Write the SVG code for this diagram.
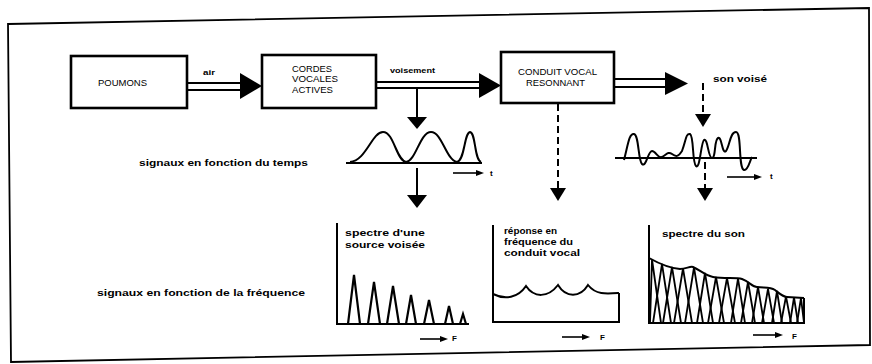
<svg xmlns="http://www.w3.org/2000/svg" width="872" height="364" viewBox="0 0 872 364">
<defs>
<style>
.frame{fill:none;stroke:#000;stroke-width:1.8}
.box{fill:#fff;stroke:#000;stroke-width:2.6}
.ln{fill:none;stroke:#000;stroke-width:2;stroke-linecap:butt}
.th{fill:none;stroke:#000;stroke-width:1.6}
.dash{fill:none;stroke:#000;stroke-width:2;stroke-dasharray:7 4}
.head{fill:#000;stroke:none}
.bx{font-family:"Liberation Sans",Arial,sans-serif;font-size:9px;fill:#000}
.lb{font-family:"Liberation Sans",Arial,sans-serif;font-size:9.5px;font-weight:bold;fill:#000}
.sm{font-family:"Liberation Sans",Arial,sans-serif;font-size:8px;font-weight:bold;fill:#000}
</style>
</defs>
<rect width="872" height="364" fill="#fff"/>
<polygon class="frame" points="8,24 869,8 870,345 11,362"/>

<g id="poumons">
<rect class="box" x="71" y="56" width="116" height="52"/>
<text class="bx" x="98" y="85.5" textLength="49" lengthAdjust="spacingAndGlyphs">POUMONS</text>
</g>
<g id="cordes">
<rect class="box" x="262" y="55" width="114" height="53"/>
<text class="bx" x="292" y="71.5" textLength="40" lengthAdjust="spacingAndGlyphs">CORDES</text>
<text class="bx" x="292" y="82" textLength="46" lengthAdjust="spacingAndGlyphs">VOCALES</text>
<text class="bx" x="292" y="92.5" textLength="41" lengthAdjust="spacingAndGlyphs">ACTIVES</text>
</g>
<g id="conduit">
<rect class="box" x="501" y="52" width="113" height="51"/>
<text class="bx" x="518" y="74.5" textLength="79" lengthAdjust="spacingAndGlyphs">CONDUIT VOCAL</text>
<text class="bx" x="526" y="85.5" textLength="59" lengthAdjust="spacingAndGlyphs">RESONNANT</text>
</g>

<g id="connectors">
<!-- poumons -> cordes -->
<line class="ln" x1="187" y1="83" x2="242" y2="83"/>
<line class="ln" x1="187" y1="90" x2="242" y2="90"/>
<polygon class="head" points="240,73 262,86 240,99"/>
<!-- cordes -> conduit -->
<line class="ln" x1="376" y1="82" x2="481" y2="82"/>
<line class="ln" x1="376" y1="88" x2="481" y2="88"/>
<polygon class="head" points="479,73 501,85.5 479,98"/>
<!-- conduit -> son voise -->
<line class="ln" x1="614" y1="79" x2="667" y2="79"/>
<line class="ln" x1="614" y1="87" x2="667" y2="87"/>
<polygon class="head" points="665,72 688,83.5 665,95"/>
<!-- voisement branch down -->
<line class="ln" x1="417" y1="88" x2="417" y2="119"/>
<polygon class="head" points="407,117 427,117 417,129"/>
<!-- son voise dashed down -->
<line class="dash" x1="703" y1="83" x2="703" y2="116"/>
<polygon class="head" points="695,114 711,114 703,127"/>
<!-- time signal 1 down -->
<line class="ln" x1="417" y1="168" x2="417" y2="197"/>
<polygon class="head" points="407,195 427,195 417,208"/>
<!-- conduit dashed down -->
<line class="dash" x1="558" y1="104" x2="558" y2="189"/>
<polygon class="head" points="550,188 566,188 558,201"/>
<!-- son waveform dashed down -->
<line class="dash" x1="705" y1="162" x2="705" y2="189"/>
<polygon class="head" points="697,188 713,188 705,201"/>
</g>

<g id="labels-arrows">
<text class="sm" x="203" y="75" textLength="12" lengthAdjust="spacingAndGlyphs">air</text>
<text class="sm" x="390" y="73" textLength="45" lengthAdjust="spacingAndGlyphs">voisement</text>
<text class="lb" x="713" y="82" textLength="54" lengthAdjust="spacingAndGlyphs">son voisé</text>
</g>

<g id="time-signal-source">
<line class="ln" x1="346" y1="163" x2="482" y2="163"/>
<path class="ln" d="M350,162 C366,161 372,132 383,132 C394,132 396,160 406,162 C416,161 420,132 431,132 C442,132 446,160 457,162 C465,160 464,133 470,132 C476,133 474,159 481,162"/>
<line class="th" x1="453" y1="173" x2="478" y2="173"/>
<polygon class="head" points="476,170 484,173 476,176"/>
<text class="sm" x="490" y="176">t</text>
</g>

<g id="time-signal-son">
<line class="ln" x1="615" y1="158" x2="757" y2="158"/>
<path class="ln" d="M624,160 C628,145 629,133 634,134 C639,135 638,160 642,164 C646,168 648,151 652,151 C656,151 658,159 662,157 C666,155 668,151 672,154 C676,157 678,157 682,151 C686,140 686,133 690,134 C694,136 692,162 696,166 C700,170 701,142 704,140 C708,138 708,158 712,158 C716,158 714,140 718,138 C722,136 722,155 726,151 C730,145 730,132 736,132 C742,132 738,168 744,170 C748,171 750,160 752,157"/>
<line class="th" x1="727" y1="177" x2="756" y2="177"/>
<polygon class="head" points="754,174 762,177 754,180"/>
<text class="sm" x="770" y="179">t</text>
</g>

<text class="lb" x="139" y="166" textLength="169" lengthAdjust="spacingAndGlyphs">signaux en fonction du temps</text>
<text class="lb" x="97" y="296" textLength="208" lengthAdjust="spacingAndGlyphs">signaux en fonction de la fréquence</text>

<g id="spectre-source">
<polyline class="ln" points="337,223 337,324 469,324"/>
<g style="fill:none;stroke:#000;stroke-width:2.2;stroke-linejoin:miter">
<polyline points="348,324 354,275 360,324"/>
<polyline points="368,324 374,282 380,324"/>
<polyline points="387,324 393,286 399,324"/>
<polyline points="406,324 411,295 416,324"/>
<polyline points="424,324 429,300 434,324"/>
<polyline points="445,324 449,306 453,324"/>
<polyline points="460,324 463,314 466,324"/>
</g>
<text class="lb" x="345" y="236" textLength="80" lengthAdjust="spacingAndGlyphs">spectre d'une</text>
<text class="lb" x="345" y="248" textLength="80" lengthAdjust="spacingAndGlyphs">source voisée</text>
<line class="th" x1="420" y1="339" x2="442" y2="339"/>
<polygon class="head" points="440,336 448,339 440,342"/>
<text class="sm" x="452" y="341">F</text>
</g>

<g id="reponse-conduit">
<polyline class="ln" points="493,225 493,322 619,322 619,293"/>
<path class="ln" d="M493,294 C505,300 518,298 526,286 C534,298 548,298 558,285 C566,298 580,298 588,285 C596,295 606,294 619,293"/>
<text class="lb" x="504" y="234" textLength="53" lengthAdjust="spacingAndGlyphs">réponse en</text>
<text class="lb" x="504" y="245" textLength="69" lengthAdjust="spacingAndGlyphs">fréquence du</text>
<text class="lb" x="504" y="256" textLength="76" lengthAdjust="spacingAndGlyphs">conduit vocal</text>
<line class="th" x1="562" y1="337" x2="584" y2="337"/>
<polygon class="head" points="582,334 590,337 582,340"/>
<text class="sm" x="600" y="340">F</text>
</g>

<g id="spectre-son">
<polyline class="ln" points="649,225 649,323 804,323 804,298"/>
<path class="ln" d="M649,258 C658,263 668,268 680,269 C686,269 690,266 693,267 C700,270 706,276 713,277 C725,279 736,277 742,279 C750,282 752,287 757,287 C765,288 770,287 775,290 C780,294 783,297 787,297 L804,298"/>
<g style="fill:none;stroke:#000;stroke-width:1.8">
<polyline points="650,323 652,259.5 661,323"/>
<polyline points="653,323 662,264 671,323"/>
<polyline points="663,323 672,267 681,323"/>
<polyline points="674,323 683,268.5 692,323"/>
<polyline points="685,323 694,267.5 703,323"/>
<polyline points="697,323 705,273 713,323"/>
<polyline points="708,323 716,277 724,323"/>
<polyline points="719,323 727,278 735,323"/>
<polyline points="731,323 738,278.7 745,323"/>
<polyline points="741,323 748,282 755,323"/>
<polyline points="752,323 758,287 764,323"/>
<polyline points="762,323 768,289 774,323"/>
<polyline points="772,323 777,291 782,323"/>
<polyline points="781,323 786,296.5 791,323"/>
<polyline points="790,323 794,297.5 798,323"/>
<polyline points="797,323 801,298 804,323"/>
</g>
<text class="lb" x="662" y="237" textLength="83" lengthAdjust="spacingAndGlyphs">spectre du son</text>
<line class="th" x1="753" y1="335" x2="777" y2="335"/>
<polygon class="head" points="775,332 783,335 775,338"/>
<text class="sm" x="792" y="339">F</text>
</g>
</svg>
